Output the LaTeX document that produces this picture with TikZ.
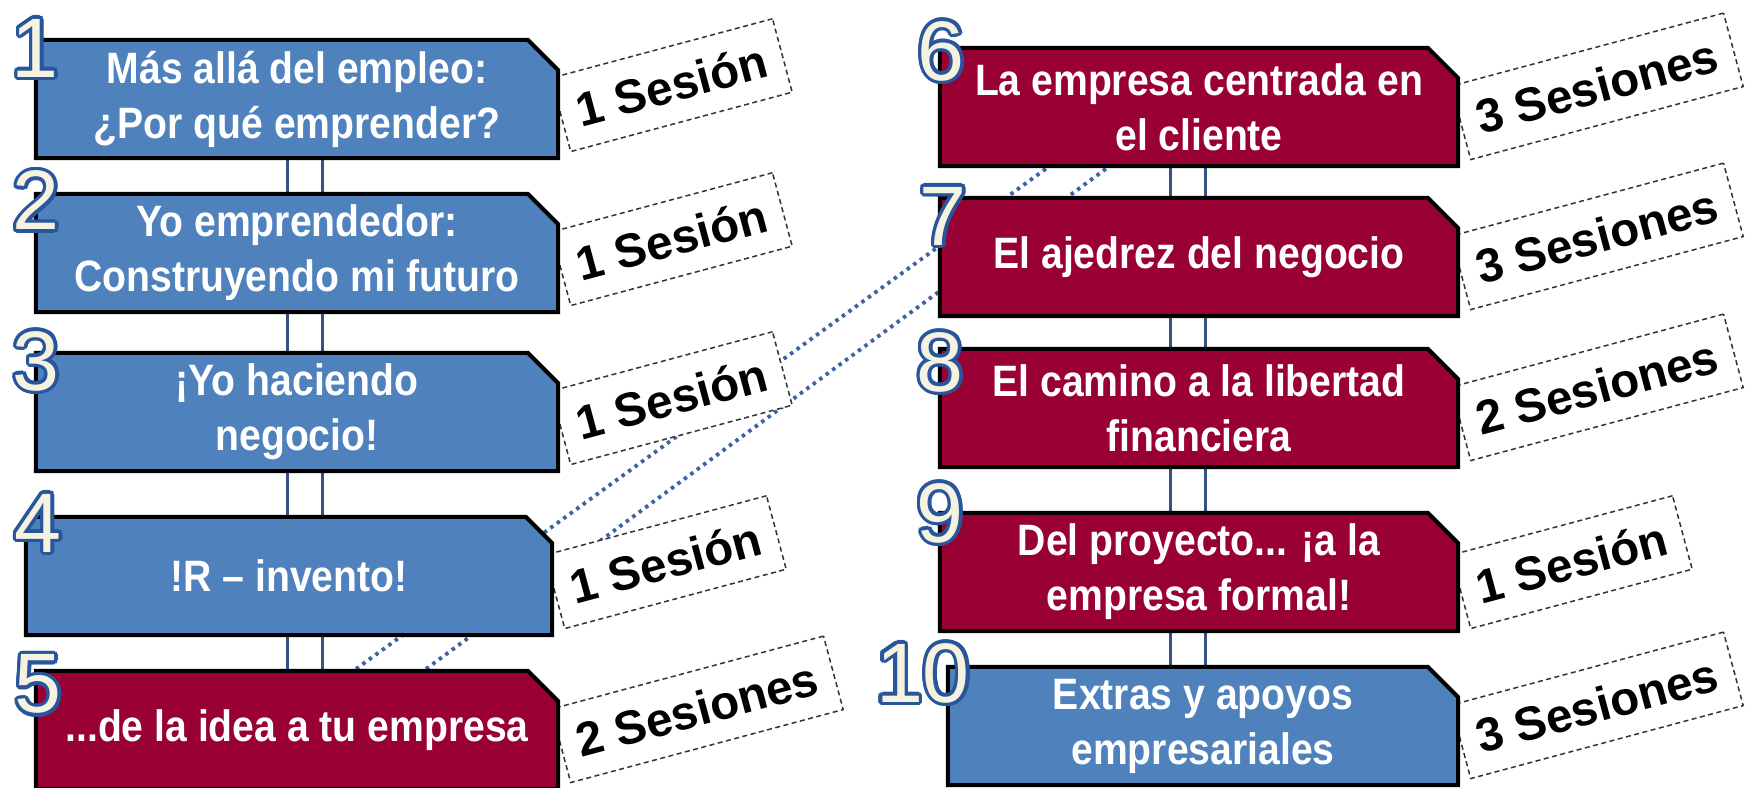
\documentclass[tikz,border=0pt]{standalone}
\usepackage{fontspec}
\usepackage{contour}
\usetikzlibrary{shapes.misc}
\newfontfamily\boxfamily[FakeStretch=0.89]{Liberation Sans}
\newfontfamily\tagfamily{Liberation Sans}
\newfontfamily\numfamily{Liberation Sans}
\definecolor{boxblue}{RGB}{79,129,189}
\definecolor{boxred}{RGB}{153,0,51}
\definecolor{linkblue}{RGB}{52,82,130}
\definecolor{dotblue}{RGB}{62,100,160}
\definecolor{numblue}{RGB}{40,85,155}
\definecolor{numfill}{RGB}{246,242,224}
\contourlength{0.035cm}
\pgfdeclarelayer{lines}
\pgfdeclarelayer{tags}
\pgfsetlayers{lines,tags,main}

\begin{document}
\begin{tikzpicture}[x=0.01cm, y=-0.01cm,
    stage/.style={chamfered rectangle, chamfered rectangle corners=north east,
        chamfered rectangle xsep=0.2cm, draw=black, line width=0.04cm,
        minimum height=1.18cm, inner sep=0pt, text=white, align=center,
        font=\boxfamily\bfseries\fontsize{12.5}{15.6}\selectfont},
    bluestage/.style={stage, fill=boxblue},
    redstage/.style={stage, fill=boxred},
    sess/.style={draw=black!80, fill=white, line width=0.015cm,
        dash pattern=on 0.05cm off 0.035cm, rotate=15, anchor=west,
        inner xsep=0.17cm, minimum height=0.76cm,
        font=\tagfamily\bfseries\fontsize{13.5}{14}\selectfont},
    num/.style={inner sep=0pt, text=numfill, font=\numfamily\fontsize{24}{24}\selectfont},
    link/.style={draw=linkblue, line width=0.03cm, double=white, double distance=0.32cm},
    dotlink/.style={draw=dotblue, line width=0.038cm, dash pattern=on 0.035cm off 0.045cm}]

        \useasboundingbox (0,0) rectangle (1745,787);

        % left column
        \node[bluestage, minimum width=5.22cm] at (297,99) (b1) {Más allá del empleo:\\¿Por qué emprender?};
        \node[bluestage, minimum width=5.22cm] at (297,253) (b2) {Yo emprendedor:\\Construyendo mi futuro};
        \node[bluestage, minimum width=5.22cm] at (297,412) (b3) {¡Yo haciendo\\negocio!};
        \node[bluestage, minimum width=5.26cm] at (289,576) (b4) {!R – invento!};
        \node[redstage, minimum width=5.22cm] at (297,730) (b5) {...de la idea a tu empresa};

        % right column
        \node[redstage, minimum width=5.18cm] at (1199,107) (b6) {La empresa centrada en\\el cliente};
        \node[redstage, minimum width=5.18cm] at (1199,257) (b7) {El ajedrez del negocio};
        \node[redstage, minimum width=5.18cm] at (1199,408) (b8) {El camino a la libertad\\financiera};
        \node[redstage, minimum width=5.18cm] at (1199,572) (b9) {Del proyecto... ¡a la\\empresa formal!};
        \node[bluestage, minimum width=5.10cm] at (1203,726) (b10) {Extras y apoyos\\empresariales};

        % numbers
        \node[num] at (35,50) (n1) {\contour{numblue}{1}};
        \node[num] at (36,202) (n2) {\contour{numblue}{2}};
        \node[num] at (36,363) (n3) {\contour{numblue}{3}};
        \node[num] at (38,525) (n4) {\contour{numblue}{4}};
        \node[num] at (38,686) (n5) {\contour{numblue}{5}};
        \node[num] at (941,53) (n6) {\contour{numblue}{6}};
        \node[num] at (943,218) (n7) {\contour{numblue}{7}};
        \node[num] at (940,364) (n8) {\contour{numblue}{8}};
        \node[num] at (940,515) (n9) {\contour{numblue}{9}};
        \node[num] at (923,675) (n10) {\contour{numblue}{10}};

        % sessions
        \begin{pgfonlayer}{tags}
        \node[sess] at ([yshift=-0.16cm]b1.east) (s1) {1 Sesión};
        \node[sess] at ([yshift=-0.16cm]b2.east) (s2) {1 Sesión};
        \node[sess] at ([yshift=-0.16cm]b3.east) (s3) {1 Sesión};
        \node[sess] at ([yshift=-0.16cm]b4.east) (s4) {1 Sesión};
        \node[sess] at ([yshift=-0.16cm]b5.east) (s5) {2 Sesiones};
        \node[sess] at ([yshift=-0.16cm]b6.east) (s6) {3 Sesiones};
        \node[sess] at ([yshift=-0.16cm]b7.east) (s7) {3 Sesiones};
        \node[sess] at ([yshift=-0.16cm]b8.east) (s8) {2 Sesiones};
        \node[sess] at ([yshift=-0.2cm]b9.east) (s9) {1 Sesión};
        \node[sess] at ([yshift=-0.16cm]b10.east) (s10) {3 Sesiones};
        \end{pgfonlayer}

        % links
        \begin{pgfonlayer}{lines}
        \fill[white] (0,0) rectangle (1745,787);
        \coordinate (spineL) at (305,0);
        \coordinate (spineR) at (1188,0);
        \draw[link] (b1.south -| spineL) -- (b2.north -| spineL);
        \draw[link] (b2.south -| spineL) -- (b3.north -| spineL);
        \draw[link] (b3.south -| spineL) -- (b4.north -| spineL);
        \draw[link] (b4.south -| spineL) -- (b5.north -| spineL);
        \draw[link] (b6.south -| spineR) -- (b7.north -| spineR);
        \draw[link] (b7.south -| spineR) -- (b8.north -| spineR);
        \draw[link] (b8.south -| spineR) -- (b9.north -| spineR);
        \draw[link] (b9.south -| spineR) -- (b10.north -| spineR);
        \draw[dotlink] ([xshift=0.59cm]b5.north) -- ([xshift=-1.52cm]b6.south);
        \draw[dotlink] ([xshift=1.29cm]b5.north) -- ([xshift=-0.92cm]b6.south);
        \end{pgfonlayer}
            \end{tikzpicture}
\end{document}
